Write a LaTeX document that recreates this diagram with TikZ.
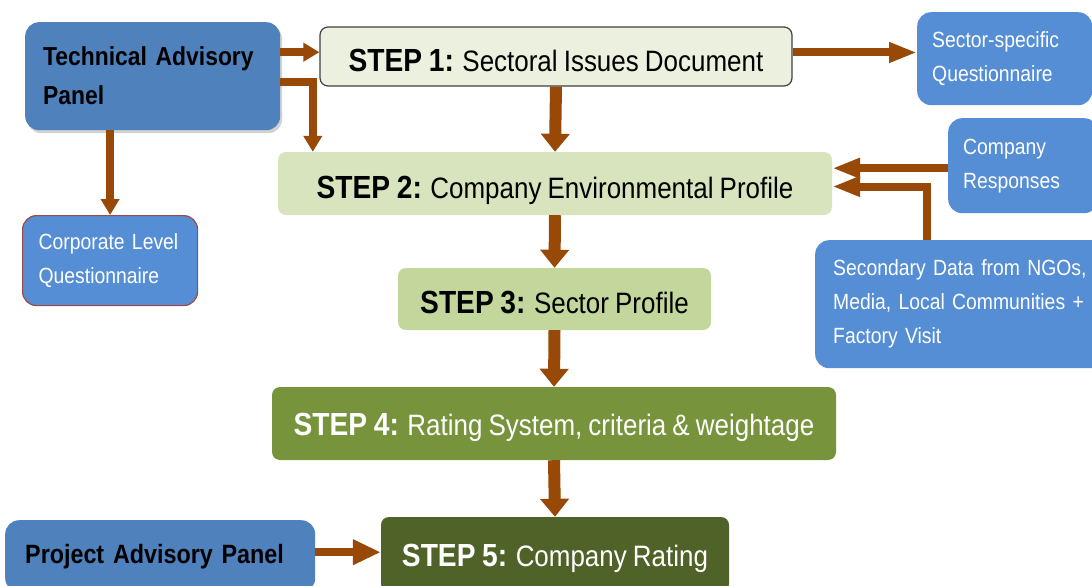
\documentclass[tikz,border=0pt]{standalone}
\usepackage{fontspec}
\setmainfont{Liberation Sans}[FakeStretch=0.88,WordSpace=0.85]
\usetikzlibrary{arrows.meta,shadows,calc}
\definecolor{arrowbrown}{HTML}{984807}
\definecolor{tapblue}{HTML}{4F81BD}
\definecolor{lightblue}{HTML}{558ED5}
\definecolor{corpborder}{HTML}{9C4A45}
\definecolor{sone}{HTML}{EBF1DE}
\definecolor{stwo}{HTML}{D7E4BD}
\definecolor{sthree}{HTML}{C3D69B}
\definecolor{sfour}{HTML}{77933C}
\definecolor{sfive}{HTML}{4F6228}
\newcommand{\stp}[1]{{\fontsize{32}{36}\selectfont\bfseries STEP #1:} }
\begin{document}
\begin{tikzpicture}[x=1pt,y=-1pt,
  stepbox/.style={rounded corners=8pt, inner sep=0pt, text height=34pt, text depth=5pt,
     font=\fontsize{29.5}{36}\selectfont},
  panelbox/.style={rounded corners=14pt, fill=tapblue, align=left, inner ysep=0pt,
     font=\fontsize{26}{39}\selectfont\bfseries, anchor=north west},
  bluebox/.style={rounded corners=14pt, fill=lightblue, text=white, align=left, inner ysep=0pt,
     font=\fontsize{22}{34}\selectfont, anchor=north west},
  bigarrow/.style={draw=arrowbrown, line width=12pt, -{Triangle[width=28pt,length=18pt]}},
  sidearrow/.style={draw=arrowbrown, line width=8pt, -{Triangle[width=19pt,length=28pt]}},
  taparrow/.style={draw=arrowbrown, line width=8pt, -{Triangle[width=18pt,length=16pt]}}
]
\clip (0,0) rectangle (1092,586);
\fill[white] (0,0) rectangle (1092,586);

% panels
\node[panelbox, drop shadow={shadow xshift=2pt, shadow yshift=-3pt, opacity=0.35},
      minimum width=255pt, minimum height=108pt, text width=219pt, inner xsep=18pt]
      (tap) at (25,22) {Technical Advisory\\Panel};
\node[panelbox, font=\fontsize{26.5}{39}\selectfont\bfseries,
      minimum width=310pt, minimum height=72pt, text width=270pt, inner xsep=20pt]
      (pap) at (5,520) {Project Advisory Panel};

% blue boxes
\node[bluebox, minimum width=175pt, minimum height=93pt, text width=145pt, inner xsep=15pt]
      (ssq) at (917,12) {Sector-specific\\Questionnaire};
\node[bluebox, minimum width=150pt, minimum height=95pt, text width=120pt, inner xsep=15pt]
      (cr) at (948,118) {Company\\Responses};
\node[bluebox, draw=corpborder, line width=1.2pt, minimum width=175pt, minimum height=90pt,
      text width=143pt, inner xsep=16pt]
      (clq) at (22,215) {Corporate Level\\Questionnaire};
\node[bluebox, minimum width=300pt, minimum height=128pt, text width=264pt, inner xsep=18pt]
      (sd) at (815,240) {Secondary Data from NGOs,\\Media, Local Communities +\\Factory Visit};

% steps
\node[stepbox, fill=sone, draw=black!75, line width=1.2pt, minimum width=472pt, minimum height=59pt]
      (s1) at (556,56.5) {\stp{1}Sectoral Issues Document};
\node[stepbox, fill=stwo, minimum width=554pt, minimum height=63pt]
      (s2) at (555,183.5) {\stp{2}Company Environmental Profile};
\node[stepbox, fill=sthree, minimum width=313pt, minimum height=62pt]
      (s3) at (554.5,299) {\stp{3}Sector Profile};
\node[stepbox, fill=sfour, text=white, text height=30pt, text depth=6pt,
      minimum width=564pt, minimum height=73pt]
      (s4) at (554,423.5) {\stp{4}Rating System, criteria \& weightage};
\node[stepbox, fill=sfive, text=white, text height=30pt, text depth=7pt,
      minimum width=348pt, minimum height=75pt]
      (s5) at (555,554.5) {\stp{5}Company Rating};

% connectors
\coordinate (a1) at ($(tap.east)+(0,-24)$);
\draw[taparrow] (a1) -- (a1 -| s1.west);
\coordinate (a2) at ($(tap.east)+(0,6)$);
\coordinate (a2e) at ($(s2.north west)+(35,0)$);
\draw[taparrow] (a2) -| (a2e);
\draw[taparrow] (clq.north |- tap.south) -- (clq.north);

\coordinate (a3) at ($(s1.east)+(0,-4)$);
\draw[sidearrow] (a3) -- (a3 -| ssq.west);
\draw[bigarrow] (s1.south) -- (s2.north);
\draw[bigarrow] (s2.south) -- (s3.north);
\draw[bigarrow] (s3.south) -- (s4.north);
\draw[bigarrow] (s4.south) -- (s5.north);

\coordinate (a4) at ($(cr.west)+(0,2.5)$);
\draw[sidearrow] (a4) -- (a4 -| s2.east);
\coordinate (a5) at ($(sd.north west)+(112,0)$);
\coordinate (a5e) at ($(s2.east)+(0,3)$);
\draw[sidearrow] (a5) |- (a5e);

\coordinate (a6) at ($(pap.east)+(0,-4)$);
\draw[sidearrow, -{Triangle[width=24pt,length=28pt]}] (a6) -- (a6 -| s5.west);
\end{tikzpicture}
\end{document}
